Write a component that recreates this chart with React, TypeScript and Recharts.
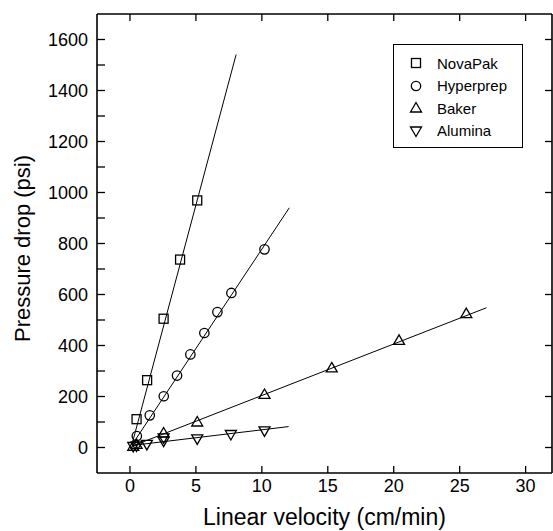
import { ScatterChart, Scatter, XAxis, YAxis, Label } from "recharts";

const FONT = "'Liberation Sans', Arial, Helvetica, sans-serif";

// axes
const X_DOMAIN = [-2.5, 32];
const Y_DOMAIN = [-100, 1700];
const X_TICKS = [0, 5, 10, 15, 20, 25, 30];
const Y_TICKS = [0, 100, 200, 300, 400, 500, 600, 700, 800, 900, 1000, 1100, 1200, 1300, 1400, 1500, 1600];
const Y_MAJOR = [0, 200, 400, 600, 800, 1000, 1200, 1400, 1600];

// mesures (vitesse en cm/min, perte de charge en psi)
const novaPakX = [0.5, 1.3, 2.55, 3.8, 5.1];
const novaPakY = [111, 264, 505, 737, 969];
const hyperprepX = [0.52, 1.5, 2.56, 3.57, 4.58, 5.64, 6.63, 7.69, 10.2];
const hyperprepY = [45, 126, 201, 282, 365, 449, 531, 606, 777];
const bakerX = [0.25, 0.5, 2.55, 5.1, 10.2, 15.3, 20.4, 25.5];
const bakerY = [5, 12, 57, 100, 208, 312, 420, 525];
const aluminaX = [0.25, 0.5, 1.28, 2.55, 2.55, 5.1, 7.65, 10.2];
const aluminaY = [4, 6, 12, 25, 38, 34, 51, 65];

// droites de régression (extrémités)
const novaPakFitX = [0.15, 8.05];
const novaPakFitY = [12, 1541];
const hyperprepFitX = [0.15, 12.08];
const hyperprepFitY = [10, 940];
const bakerFitX = [0.15, 27.03];
const bakerFitY = [5, 548];
const aluminaFitX = [0.15, 12.03];
const aluminaFitY = [8, 82];

const SERIES_NAMES = ["NovaPak", "Hyperprep", "Baker", "Alumina"];

function zip(xs: number[], ys: number[]) {
  return xs.map((x, i) => ({ x, y: ys[i] }));
}

type Kind = "square" | "circle" | "up" | "down";

function Marker({ cx, cy, kind }: { cx: number; cy: number; kind: Kind }) {
  const common = { fill: "none", stroke: "#000", strokeWidth: 1.3 };
  if (kind === "square") return <rect x={cx - 4.5} y={cy - 4.5} width={9} height={9} {...common} />;
  if (kind === "circle") return <circle cx={cx} cy={cy} r={4.7} {...common} />;
  if (kind === "up")
    return <polygon points={`${cx},${cy - 5.5} ${cx + 5.5},${cy + 4} ${cx - 5.5},${cy + 4}`} {...common} />;
  return <polygon points={`${cx},${cy + 5.5} ${cx + 5.5},${cy - 4} ${cx - 5.5},${cy - 4}`} {...common} />;
}

const KINDS: Kind[] = ["square", "circle", "up", "down"];

const shapeOf = (kind: Kind) => (p: any) => <Marker cx={p.cx} cy={p.cy} kind={kind} />;
const noShape = () => <g />;

function BottomTick({ x, y, payload }: any) {
  return (
    <g>
      <line x1={x} x2={x} y1={y} y2={y - 7} stroke="#000" strokeWidth={1.3} />
      <text x={x} y={y + 19} textAnchor="middle" fontSize={18} fontFamily={FONT} fill="#000">
        {payload.value}
      </text>
    </g>
  );
}

function LeftTick({ x, y, payload }: any) {
  const major = Y_MAJOR.includes(payload.value);
  return (
    <g>
      <line x1={x} x2={x + 8} y1={y} y2={y} stroke="#000" strokeWidth={1.3} />
      {major && (
        <text x={x - 9} y={y + 6} textAnchor="end" fontSize={18} fontFamily={FONT} fill="#000">
          {payload.value}
        </text>
      )}
    </g>
  );
}

function TopTick({ x, y }: any) {
  return <line x1={x} x2={x} y1={y} y2={y + 7} stroke="#000" strokeWidth={1.3} />;
}

function RightTick({ x, y }: any) {
  return <line x1={x} x2={x - 7} y1={y} y2={y} stroke="#000" strokeWidth={1.3} />;
}

function LegendBox() {
  return (
    <div
      style={{
        position: "absolute",
        left: 393,
        top: 44,
        width: 130,
        height: 104,
        boxSizing: "border-box",
        border: "1.5px solid #000",
        background: "#fff",
        paddingTop: 7,
        fontFamily: FONT,
        fontSize: 15,
        color: "#000",
      }}
    >
      {SERIES_NAMES.map((name, i) => (
        <div key={name} style={{ display: "flex", alignItems: "center", height: 22.5 }}>
          <svg width={20} height={16} style={{ marginLeft: 12, marginRight: 11 }}>
            <Marker cx={10} cy={8} kind={KINDS[i]} />
          </svg>
          <span>{name}</span>
        </div>
      ))}
    </div>
  );
}

const axisLine = { stroke: "#000", strokeWidth: 1.6 };

export default function App() {
  return (
    <div style={{ position: "absolute", left: 0, top: 0, width: 553, height: 531, background: "#fff" }}>
      <ScatterChart width={553} height={531} margin={{ top: 0, right: 0, bottom: 0, left: 0 }}>
        <XAxis
          type="number"
          dataKey="x"
          domain={X_DOMAIN}
          ticks={X_TICKS}
          allowDataOverflow
          height={58}
          tickSize={0}
          tickMargin={0}
          tickLine={false}
          axisLine={axisLine}
          tick={<BottomTick />}
        >
          <Label
            value="Linear velocity (cm/min)"
            position="insideBottom"
            offset={6}
            style={{ fontSize: 23, fontFamily: FONT, fill: "#000" }}
          />
        </XAxis>
        <XAxis
          xAxisId="t"
          orientation="top"
          type="number"
          dataKey="x"
          domain={X_DOMAIN}
          ticks={X_TICKS}
          allowDataOverflow
          height={14}
          tickSize={0}
          tickMargin={0}
          tickLine={false}
          axisLine={axisLine}
          tick={<TopTick />}
        />
        <YAxis
          type="number"
          dataKey="y"
          domain={Y_DOMAIN}
          ticks={Y_TICKS}
          allowDataOverflow
          width={97}
          tickSize={0}
          tickMargin={0}
          tickLine={false}
          axisLine={axisLine}
          tick={<LeftTick />}
          label={{
            content: (p: any) => {
              const vb = p.viewBox || { x: 0, y: 14, width: 97, height: 459 };
              const cx = vb.x + 30;
              const cy = vb.y + vb.height / 2 + 5;
              return (
                <text
                  x={cx}
                  y={cy}
                  transform={`rotate(-90 ${cx} ${cy})`}
                  textAnchor="middle"
                  fontSize={22}
                  fontFamily={FONT}
                  fill="#000"
                >
                  Pressure drop (psi)
                </text>
              );
            },
          }}
        />
        <YAxis
          yAxisId="r"
          orientation="right"
          type="number"
          dataKey="y"
          domain={Y_DOMAIN}
          ticks={Y_MAJOR}
          allowDataOverflow
          width={1}
          tickSize={0}
          tickMargin={0}
          tickLine={false}
          axisLine={axisLine}
          tick={<RightTick />}
        />

        <Scatter name="NovaPak fit" data={zip(novaPakFitX, novaPakFitY)} line={{ stroke: "#000", strokeWidth: 1 }} shape={noShape} legendType="none" isAnimationActive={false} />
        <Scatter name="Hyperprep fit" data={zip(hyperprepFitX, hyperprepFitY)} line={{ stroke: "#000", strokeWidth: 1 }} shape={noShape} legendType="none" isAnimationActive={false} />
        <Scatter name="Baker fit" data={zip(bakerFitX, bakerFitY)} line={{ stroke: "#000", strokeWidth: 1 }} shape={noShape} legendType="none" isAnimationActive={false} />
        <Scatter name="Alumina fit" data={zip(aluminaFitX, aluminaFitY)} line={{ stroke: "#000", strokeWidth: 1 }} shape={noShape} legendType="none" isAnimationActive={false} />

        <Scatter name="NovaPak" data={zip(novaPakX, novaPakY)} shape={shapeOf("square")} isAnimationActive={false} />
        <Scatter name="Hyperprep" data={zip(hyperprepX, hyperprepY)} shape={shapeOf("circle")} isAnimationActive={false} />
        <Scatter name="Baker" data={zip(bakerX, bakerY)} shape={shapeOf("up")} isAnimationActive={false} />
        <Scatter name="Alumina" data={zip(aluminaX, aluminaY)} shape={shapeOf("down")} isAnimationActive={false} />
      </ScatterChart>
      <LegendBox />
    </div>
  );
}
